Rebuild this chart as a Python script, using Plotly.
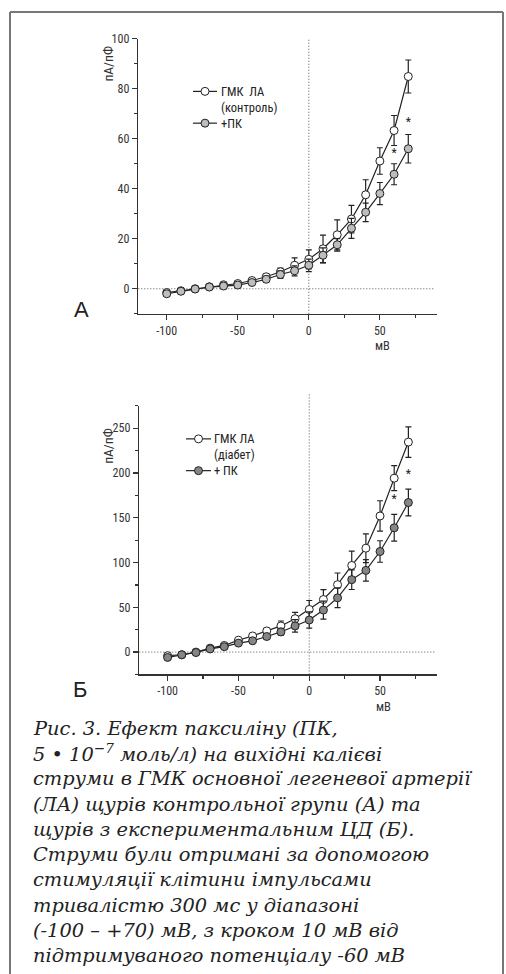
import plotly.graph_objects as go

W, H = 506, 974

# ---------------- data ----------------
voltage = [-100, -90, -80, -70, -60, -50, -40, -30, -20, -10, 0, 10, 20, 30, 40, 50, 60, 70]

# Panel A (control rats)
a_ctrl = [-1.5, -0.8, 0.0, 0.8, 1.6, 2.1, 3.3, 4.8, 6.8, 9.4, 11.8, 16.0, 21.6, 27.9, 37.6, 51.1, 63.3, 84.9]
a_ctrl_err = [1.0, 1.0, 1.0, 1.0, 1.0, 1.0, 1.2, 1.3, 1.5, 3.0, 3.8, 5.5, 6.0, 5.5, 6.0, 5.3, 6.0, 6.6]
a_pk = [-2.0, -1.0, -0.1, 0.7, 1.1, 1.5, 2.5, 3.8, 5.7, 7.2, 9.4, 13.4, 17.6, 24.2, 30.6, 38.1, 45.8, 56.0]
a_pk_err = [1.0, 1.0, 1.0, 1.0, 1.0, 1.0, 1.0, 1.2, 1.5, 2.0, 2.5, 3.0, 2.5, 4.0, 3.7, 4.4, 4.2, 5.7]
a_star_x = [60, 70]
a_star_y = [53.8, 66.4]

# Panel B (diabetic rats)
b_ctrl = [-4.0, -3.0, 0.0, 4.4, 7.4, 13.3, 18.0, 23.6, 29.2, 37.3, 47.6, 58.7, 75.3, 96.7, 116.0, 152.0, 194.2, 234.5]
b_ctrl_err = [2.0, 2.0, 2.0, 2.0, 2.0, 2.0, 2.5, 3.0, 5.5, 7.0, 10.0, 11.0, 13.0, 16.0, 16.0, 17.0, 14.0, 17.0]
b_pk = [-6.0, -3.0, -0.5, 3.5, 6.0, 10.0, 12.6, 17.4, 22.5, 29.2, 35.8, 46.9, 60.6, 80.9, 91.2, 112.3, 138.8, 167.0]
b_pk_err = [2.0, 2.0, 2.0, 2.0, 2.0, 2.0, 2.5, 3.0, 4.0, 7.0, 9.0, 10.0, 11.0, 11.0, 12.0, 12.0, 15.0, 15.0]
b_star_x = [60, 70]
b_star_y = [169.5, 198.0]

x_ticks = [-100, -50, 0, 50]
x_tick_text = ["-100", "-50", "0", "50"]
a_y_ticks = [0, 20, 40, 60, 80, 100]
b_y_ticks = [0, 50, 100, 150, 200, 250]

legend_a = ["ГМК  ЛА", "(контроль)", "+ПК"]
legend_b = ["ГМК ЛА", "(діабет)", "+ ПК"]

caption = [
    "Рис. 3. Ефект паксиліну (ПК,",
    "5 • 10<sup>−7</sup> моль/л) на вихідні калієві",
    "струми в ГМК основної легеневої артерії",
    "(ЛА) щурів контрольної групи (А) та",
    "щурів з експериментальним ЦД (Б).",
    "Струми були отримані за допомогою",
    "стимуляції клітини імпульсами",
    "тривалістю 300 мс у діапазоні",
    "(-100 – +70) мВ, з кроком 10 мВ від",
    "підтримуваного потенціалу -60 мВ",
]

# ---------------- helpers (window pixel -> paper) ----------------
def px(p):
    return p / W


def py(p):
    return 1 - p / H


NARROW = "Liberation Sans Narrow, Roboto Condensed, Arial Narrow, Liberation Sans, sans-serif"
INK = "#222222"
A_GRAY = "#bdbdbd"
B_GRAY = "#858585"

fig = go.Figure()


def add_series(y, err, fill, xa, ya):
    fig.add_trace(go.Scatter(
        x=voltage, y=y, xaxis=xa, yaxis=ya, mode="lines+markers",
        line=dict(color=INK, width=1.2),
        marker=dict(size=8, color=fill, line=dict(color=INK, width=1)),
        error_y=dict(type="data", array=err, visible=True, color=INK, thickness=1.2, width=3),
        showlegend=False, hoverinfo="skip", cliponaxis=False,
    ))


add_series(a_ctrl, a_ctrl_err, "white", "x", "y")
add_series(a_pk, a_pk_err, A_GRAY, "x", "y")
add_series(b_ctrl, b_ctrl_err, "white", "x2", "y2")
add_series(b_pk, b_pk_err, B_GRAY, "x2", "y2")

for sx, sy, xa, ya in [(a_star_x, a_star_y, "x", "y"), (b_star_x, b_star_y, "x2", "y2")]:
    fig.add_trace(go.Scatter(
        x=sx, y=sy, xaxis=xa, yaxis=ya, mode="text", text=["*"] * len(sx),
        textfont=dict(family=NARROW, size=12, color=INK), showlegend=False, hoverinfo="skip",
    ))

axis_common = dict(
    showline=True, linecolor="#333333", linewidth=1.5, showgrid=False, zeroline=False,
    ticks="outside", ticklen=5, tickwidth=1.2, tickcolor="#333333",
    tickfont=dict(family=NARROW, size=12, color="#333333"),
)
minor_common = dict(ticklen=3, ticks="outside", tickcolor="#333333", tickwidth=1.2)

fig.update_layout(
    width=W, height=H, margin=dict(l=0, r=0, t=0, b=0),
    paper_bgcolor="white", plot_bgcolor="white",
    xaxis=dict(domain=[px(138.3), px(436.7)], range=[-120, 90], anchor="y",
               tickvals=x_ticks, ticktext=x_tick_text, minor=dict(dtick=25, tick0=0, **minor_common),
               **axis_common),
    yaxis=dict(domain=[py(309), py(32)], range=[-10, 100], anchor="x",
               tickvals=a_y_ticks, minor=dict(dtick=10, tick0=0, **minor_common),
               **axis_common),
    xaxis2=dict(domain=[px(139.3), px(436.7)], range=[-120, 90], anchor="y2",
                tickvals=x_ticks, ticktext=x_tick_text, minor=dict(dtick=25, tick0=0, **minor_common),
                **axis_common),
    yaxis2=dict(domain=[py(672.3), py(401.7)], range=[-25, 275], anchor="x2",
                tickvals=b_y_ticks, minor=dict(dtick=25, tick0=0, **minor_common),
                **axis_common),
)

shapes = []
# reference dotted lines
dot = dict(color="#555555", width=1, dash="1px,2px")
shapes.append(dict(type="line", xref="x domain", yref="y", x0=0, x1=0.995, y0=0, y1=0, line=dot, layer="below"))
shapes.append(dict(type="line", xref="x", yref="y domain", x0=0, x1=0, y0=0, y1=1, line=dot, layer="below"))
shapes.append(dict(type="line", xref="x2 domain", yref="y2", x0=0, x1=0.995, y0=0, y1=0, line=dot, layer="below"))
shapes.append(dict(type="line", xref="x2", yref="paper", x0=0, x1=0, y0=py(672.3), y1=py(389), line=dot, layer="below"))

# frame (open at the bottom)
frame = dict(color="#777777", width=2)
shapes.append(dict(type="line", xref="paper", yref="paper", x0=px(10), x1=px(10), y0=py(5), y1=0, line=frame))
shapes.append(dict(type="line", xref="paper", yref="paper", x0=px(10), x1=px(503), y0=py(5), y1=py(5), line=frame))
shapes.append(dict(type="line", xref="paper", yref="paper", x0=px(503), x1=px(503), y0=py(5), y1=0, line=frame))

annotations = []


def legend_block(x_line0, x_line1, x_text, ys, labels, fill):
    for yy, fc in [(ys[0], "white"), (ys[2], fill)]:
        shapes.append(dict(type="line", xref="paper", yref="paper", x0=px(x_line0), x1=px(x_line1),
                           y0=py(yy), y1=py(yy), line=dict(color=INK, width=1.2)))
        xc = (x_line0 + x_line1) / 2
        shapes.append(dict(type="circle", xref="paper", yref="paper", xsizemode="pixel", ysizemode="pixel",
                           xanchor=px(xc), yanchor=py(yy), x0=-4, x1=4, y0=-4, y1=4,
                           fillcolor=fc, line=dict(color=INK, width=1)))
    for yy, lab in zip(ys, labels):
        annotations.append(dict(xref="paper", yref="paper", x=px(x_text), y=py(yy), text=lab, showarrow=False,
                                xanchor="left", yanchor="middle", font=dict(family=NARROW, size=12.5, color="#222")))


legend_block(193, 217, 219, [85, 101, 117], legend_a, A_GRAY)
legend_block(186, 211, 212, [435, 451, 467], legend_b, B_GRAY)

# axis labels
for (xx, yy) in [(108, 57), (108, 442)]:
    annotations.append(dict(xref="paper", yref="paper", x=px(xx), y=py(yy), text="пА/пФ", textangle=-90,
                            showarrow=False, xanchor="center", yanchor="middle",
                            font=dict(family=NARROW, size=13.5, color="#333")))
for (xx, yy) in [(382, 341), (383, 705)]:
    annotations.append(dict(xref="paper", yref="paper", x=px(xx), y=py(yy), text="мВ", showarrow=False,
                            xanchor="center", yanchor="middle", font=dict(family=NARROW, size=12.5, color="#333")))

# panel letters
for (xx, yy, t) in [(81, 305, "А"), (80, 687, "Б")]:
    annotations.append(dict(xref="paper", yref="paper", x=px(xx), y=py(yy), text=t, showarrow=False,
                            xanchor="center", yanchor="middle",
                            font=dict(family="Liberation Sans, Arial, sans-serif", size=22, color="#222")))

# caption
cap_y = [726.7, 751.9, 777.3, 802.9, 828.3, 853.9, 879.3, 904.9, 930.3, 955.7]
for yy, line in zip(cap_y, caption):
    annotations.append(dict(xref="paper", yref="paper", x=px(31), y=py(yy), text=f"<i>{line}</i>",
                            showarrow=False, xanchor="left", yanchor="middle",
                            font=dict(family="DejaVu Serif, serif", size=19.4, color="#222")))

fig.update_layout(shapes=shapes, annotations=annotations)
fig.write_html(
    "out.html",
    config={"displayModeBar": False, "staticPlot": True},
    post_script="document.body.style.margin='0';document.body.style.overflow='hidden';"
                "document.documentElement.style.overflow='hidden';",
)
